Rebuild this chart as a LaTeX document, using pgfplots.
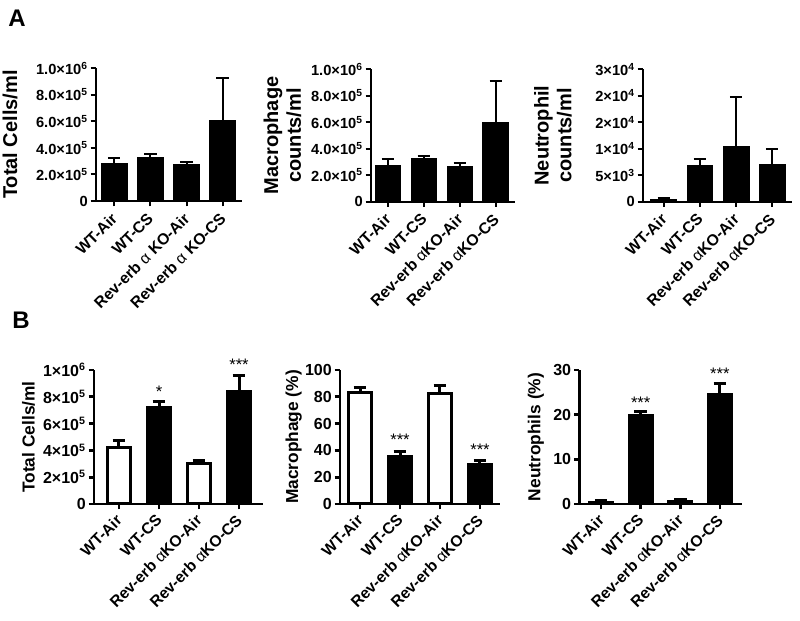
\documentclass[border=0pt]{standalone}
\usepackage{fontspec}
\setmainfont{Liberation Sans}
\usepackage{pgfplots}
\pgfplotsset{compat=1.18}
\newcommand{\al}{{\mdseries α}}
\newcommand{\sx}[2]{#1×10\textsuperscript{#2}}
\pgfplotsset{
  gp/.style={
    scale only axis,
    axis x line*=bottom, axis y line*=left,
    axis line style={line width=1.5pt, -},
    tick align=outside,
    major tick length=4pt,
    every tick/.style={line width=1.5pt, black},
    xtick={0,1,2,3},
    ymin=0,
    scaled y ticks=false,
    ybar, bar width=0.69,
    clip=false,
    y tick label style={font=\bfseries\fontsize{11}{12}\selectfont, inner sep=2pt},
    ylabel style={font=\bfseries\fontsize{15}{17}\selectfont, align=center, anchor=center},
  },
  gpA/.style={
    gp,
    x tick label style={xshift=-3pt, yshift=-2.5pt, rotate=45, anchor=north east, font=\bfseries\fontsize{11.8}{13}\selectfont, inner sep=1pt},
  },
  gpB/.style={
    gp,
    axis line style={line width=2pt, -},
    every tick/.style={line width=2pt, black},
    bar width=0.58,
    x tick label style={xshift=-3pt, yshift=-1.5pt, rotate=45, anchor=north east, font=\bfseries\fontsize{11.8}{13}\selectfont, inner sep=1pt},
    y tick label style={font=\bfseries\fontsize{12}{13}\selectfont, inner sep=2pt},
    ylabel style={font=\bfseries\fontsize{13}{15}\selectfont, align=center, anchor=center},
    xticklabels={WT-Air, WT-CS, Rev-erb \al KO-Air, Rev-erb \al KO-CS},
  },
  barA/.style={fill=black, draw=black, line width=1.5pt, bar shift=0pt,
    error bars/y dir=plus, error bars/y explicit,
    error bars/error bar style={line width=1.5pt, black, solid},
    error bars/error mark options={rotate=90, line width=1.5pt, black, solid, mark size=4.75pt}},
  barBw/.style={fill=white, draw=black, line width=2.25pt, bar shift=0pt,
    error bars/y dir=plus, error bars/y explicit,
    error bars/error bar style={line width=2.25pt, black, solid},
    error bars/error mark options={rotate=90, line width=2.25pt, black, solid, mark size=4.75pt}},
  barBb/.style={fill=black, draw=black, line width=2.25pt, bar shift=0pt,
    error bars/y dir=plus, error bars/y explicit,
    error bars/error bar style={line width=2.25pt, black, solid},
    error bars/error mark options={rotate=90, line width=2.25pt, black, solid, mark size=4.75pt}},
}
\begin{document}
\begin{tikzpicture}
\useasboundingbox (0,0) rectangle (600pt,465.75pt);
\node[font=\bfseries\fontsize{18}{20}\selectfont] at (12.75pt,452.25pt) {A};
\node[font=\bfseries\fontsize{18}{20}\selectfont] at (15.75pt,225.75pt) {B};

% ---------- A1
\begin{axis}[gpA, at={(72pt,315pt)}, anchor=south west,
  width=109.5pt, height=99.5pt,
  xmin=-0.5, xmax=3.53, ymax=1e6,
  ytick={0,2e5,4e5,6e5,8e5,1e6},
  yticklabels={0,\sx{2.0}{5},\sx{4.0}{5},\sx{6.0}{5},\sx{8.0}{5},\sx{1.0}{6}},
  xticklabels={WT-Air, WT-CS, Rev-erb \al\ KO-Air, Rev-erb \al\ KO-CS},
  ylabel={Total Cells/ml},
  ylabel style={at={(axis description cs:-0.589,0.5)}},
]
\addplot[barA] coordinates {(0,277000) +- (0,47000) (1,324000) +- (0,28000) (2,271000) +- (0,23000) (3,603000) +- (0,322000)};
\end{axis}

% ---------- A2
\begin{axis}[gpA, at={(278.25pt,314.5pt)}, anchor=south west,
  width=108pt, height=99.3pt,
  xmin=-0.47, xmax=3.53, ymax=1e6,
  ytick={0,2e5,4e5,6e5,8e5,1e6},
  yticklabels={0,\sx{2.0}{5},\sx{4.0}{5},\sx{6.0}{5},\sx{8.0}{5},\sx{1.0}{6}},
  xticklabels={WT-Air, WT-CS, Rev-erb \al KO-Air, Rev-erb \al KO-CS},
  ylabel={Macrophage\\counts/ml},
  ylabel style={at={(axis description cs:-0.615,0.5)}},
]
\addplot[barA] coordinates {(0,272000) +- (0,53000) (1,320000) +- (0,25000) (2,262000) +- (0,28000) (3,597000) +- (0,317000)};
\end{axis}

% ---------- A3
\begin{axis}[gpA, at={(482.25pt,314.5pt)}, anchor=south west,
  width=111.75pt, height=99.3pt,
  xmin=-0.58, xmax=3.55, ymax=25000,
  ytick={0,5000,10000,15000,20000,25000},
  yticklabels={0,\sx{5}{3},\sx{1}{4},\sx{2}{4},\sx{2}{4},\sx{3}{4}},
  xticklabels={WT-Air, WT-CS, Rev-erb \al KO-Air, Rev-erb \al KO-CS},
  ylabel={Neutrophil\\counts/ml},
  ylabel style={at={(axis description cs:-0.604,0.5)}},
]
\addplot[barA] coordinates {(0,400) +- (0,250) (1,6650) +- (0,1400) (2,10400) +- (0,9450) (3,7000) +- (0,2850)};
\end{axis}

% ---------- B1
\begin{axis}[gpB, at={(70.5pt,87.75pt)}, anchor=south west,
  width=126.75pt, height=100.5pt,
  xmin=-0.625, xmax=3.6, ymax=1e6,
  ytick={0,2e5,4e5,6e5,8e5,1e6},
  yticklabels={0,\sx{2}{5},\sx{4}{5},\sx{6}{5},\sx{8}{5},\sx{1}{6}},
  ylabel={Total Cells/ml},
  ylabel style={at={(axis description cs:-0.388,0.5)}},
]
\addplot[barBw] coordinates {(0,418000) +- (0,57000) (2,304000) +- (0,24000)};
\addplot[barBb] coordinates {(1,721000) +- (0,45000) (3,838000) +- (0,120000)};
\node[font=\fontsize{12.5}{13}\selectfont] at (axis cs:1,838000) {*};
\node[font=\fontsize{12.5}{13}\selectfont] at (axis cs:3,1037000) {***};
\end{axis}

% ---------- B2
\begin{axis}[gpB, at={(255pt,87.75pt)}, anchor=south west,
  width=120pt, height=100.5pt,
  xmin=-0.5, xmax=3.5, ymax=100,
  ytick={0,20,40,60,80,100},
  yticklabels={0,20,40,60,80,100},
  ylabel={Macrophage (\%)},
  ylabel style={at={(axis description cs:-0.29,0.5)}},
]
\addplot[barBw] coordinates {(0,83.4) +- (0,3.7) (2,82.8) +- (0,5.3)};
\addplot[barBb] coordinates {(1,35.3) +- (0,4.2) (3,29.6) +- (0,3.2)};
\node[font=\fontsize{12.5}{13}\selectfont] at (axis cs:1,47.8) {***};
\node[font=\fontsize{12.5}{13}\selectfont] at (axis cs:3,40.3) {***};
\end{axis}

% ---------- B3
\begin{axis}[gpB, at={(434.5pt,87.75pt)}, anchor=south west,
  width=121.8pt, height=100.5pt,
  xmin=-0.55, xmax=3.55, ymax=30,
  ytick={0,10,20,30},
  yticklabels={0,10,20,30},
  ylabel={Neutrophils (\%)},
  ylabel style={at={(axis description cs:-0.267,0.5)}},
]
\addplot[barBb] coordinates {(0,0.35) +- (0,0.35) (2,0.45) +- (0,0.45)};
\addplot[barBb] coordinates {(1,19.9) +- (0,0.8) (3,24.6) +- (0,2.4)};
\node[font=\fontsize{12.5}{13}\selectfont] at (axis cs:1,22.7) {***};
\node[font=\fontsize{12.5}{13}\selectfont] at (axis cs:3,29.1) {***};
\end{axis}
\end{tikzpicture}
\end{document}
